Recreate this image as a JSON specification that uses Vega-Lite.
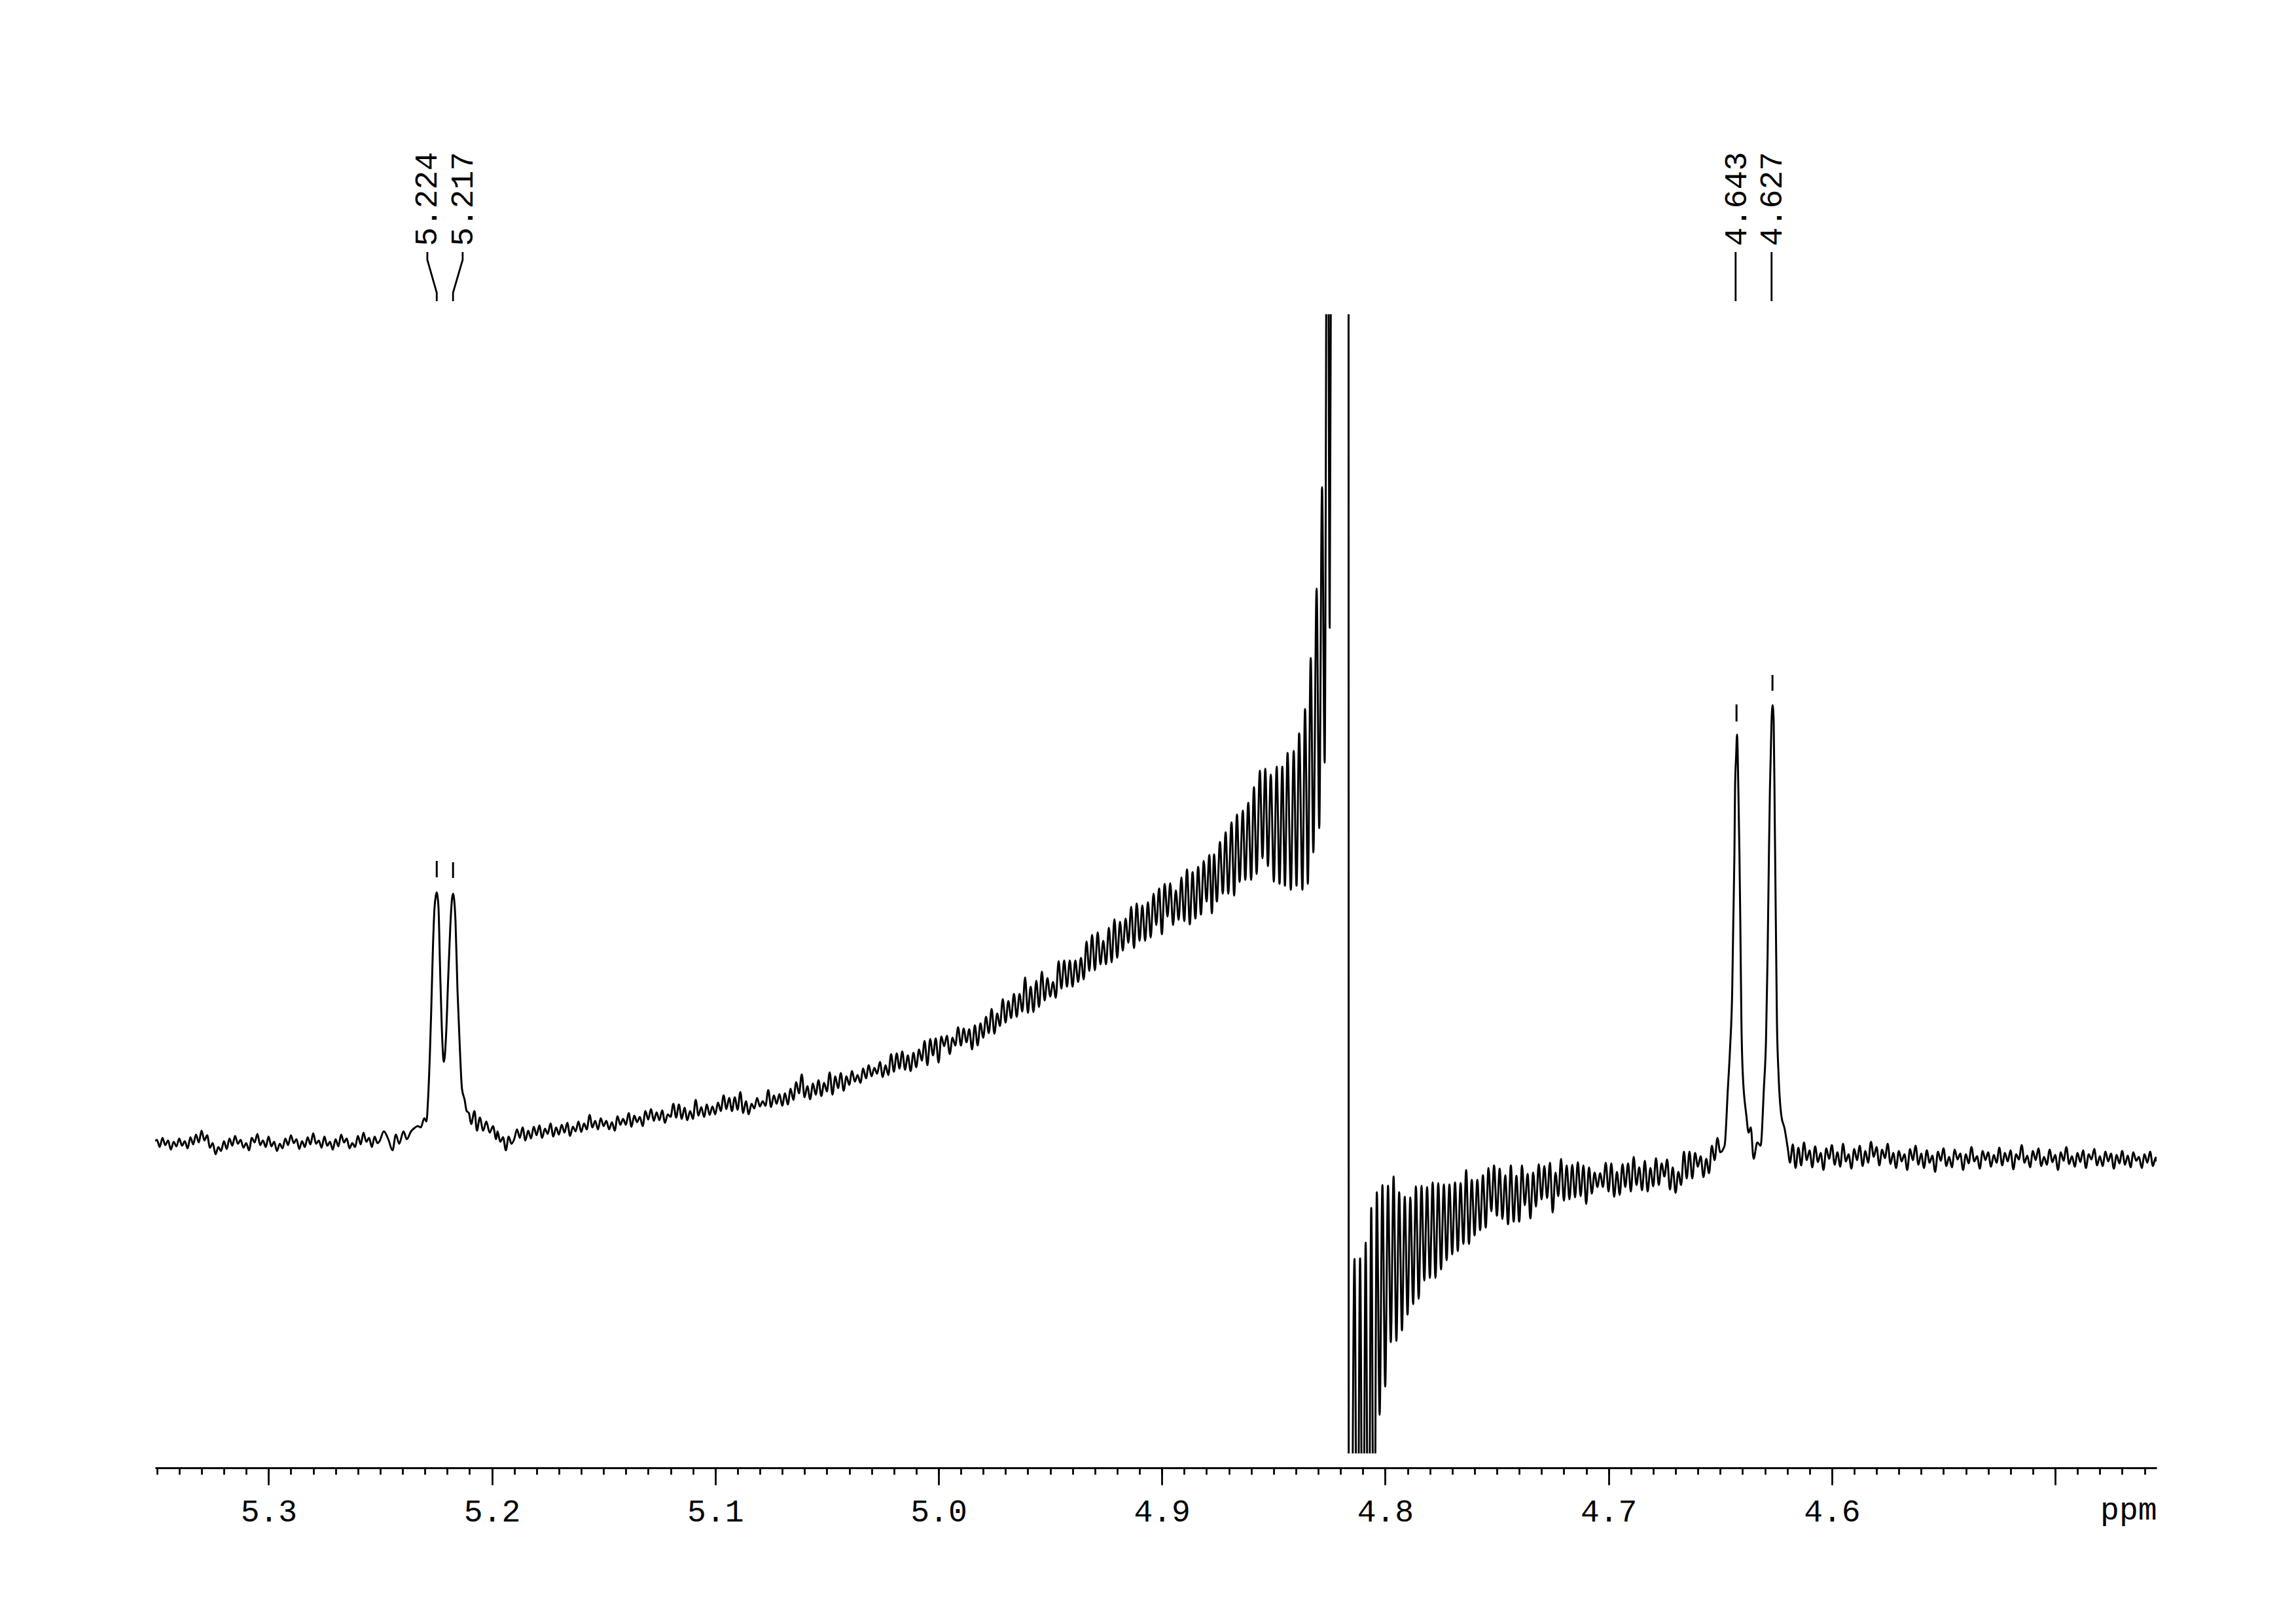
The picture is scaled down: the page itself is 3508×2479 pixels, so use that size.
{
"$schema": "https://vega.github.io/schema/vega-lite/v6.json",
"width": 3058,
"height": 1740,
"autosize": "none",
"padding": {"left": 237, "top": 480, "right": 213, "bottom": 259},
"background": "white",
"config": {"view": {"stroke": null}},
"datasets": {
"spectrum": [
{"ppm":5.3508,"int":499},
{"ppm":5.35,"int":501},{"ppm":5.34875,"int":490},{"ppm":5.3475,"int":504},{"ppm":5.34625,"int":493},{"ppm":5.345,"int":500},{"ppm":5.34375,"int":486},{"ppm":5.3425,"int":498},{"ppm":5.34125,"int":491},
{"ppm":5.34,"int":503},{"ppm":5.33875,"int":492},{"ppm":5.3375,"int":499},{"ppm":5.33625,"int":488},{"ppm":5.335,"int":505},{"ppm":5.33375,"int":494},{"ppm":5.3325,"int":509},{"ppm":5.33125,"int":497},
{"ppm":5.33,"int":515},{"ppm":5.32875,"int":500},{"ppm":5.3275,"int":508},{"ppm":5.32625,"int":489},{"ppm":5.325,"int":496},{"ppm":5.32375,"int":479},{"ppm":5.3225,"int":490},{"ppm":5.32125,"int":484},
{"ppm":5.32,"int":499},{"ppm":5.31875,"int":487},{"ppm":5.3175,"int":503},{"ppm":5.31625,"int":492},{"ppm":5.315,"int":507},{"ppm":5.31375,"int":495},{"ppm":5.3125,"int":501},{"ppm":5.31125,"int":489},
{"ppm":5.31,"int":496},{"ppm":5.30875,"int":485},{"ppm":5.3075,"int":504},{"ppm":5.30625,"int":497},{"ppm":5.305,"int":510},{"ppm":5.30375,"int":493},{"ppm":5.3025,"int":500},{"ppm":5.30125,"int":490},
{"ppm":5.3,"int":506},{"ppm":5.29875,"int":491},{"ppm":5.2975,"int":498},{"ppm":5.29625,"int":484},{"ppm":5.295,"int":495},{"ppm":5.29375,"int":488},{"ppm":5.2925,"int":503},{"ppm":5.29125,"int":493},
{"ppm":5.29,"int":508},{"ppm":5.28875,"int":496},{"ppm":5.2875,"int":502},{"ppm":5.28625,"int":487},{"ppm":5.285,"int":499},{"ppm":5.28375,"int":490},{"ppm":5.2825,"int":505},{"ppm":5.28125,"int":494},
{"ppm":5.28,"int":511},{"ppm":5.27875,"int":495},{"ppm":5.2775,"int":500},{"ppm":5.27625,"int":489},{"ppm":5.275,"int":506},{"ppm":5.27375,"int":492},{"ppm":5.2725,"int":498},{"ppm":5.27125,"int":486},
{"ppm":5.27,"int":502},{"ppm":5.26875,"int":491},{"ppm":5.2675,"int":509},{"ppm":5.26625,"int":497},{"ppm":5.265,"int":503},{"ppm":5.26375,"int":488},{"ppm":5.2625,"int":496},{"ppm":5.26125,"int":490},
{"ppm":5.26,"int":507},{"ppm":5.25875,"int":494},{"ppm":5.2575,"int":512},{"ppm":5.25625,"int":498},{"ppm":5.255,"int":504},{"ppm":5.25375,"int":490},{"ppm":5.2525,"int":506},{"ppm":5.25125,"int":496},
{"ppm":5.2503,"int":499},{"ppm":5.2484,"int":514},{"ppm":5.2464,"int":502},{"ppm":5.2445,"int":485},{"ppm":5.243,"int":509},{"ppm":5.2415,"int":495},{"ppm":5.2396,"int":514},{"ppm":5.2381,"int":502},
{"ppm":5.2362,"int":514},{"ppm":5.2347,"int":519},{"ppm":5.2332,"int":522},{"ppm":5.2318,"int":520},{"ppm":5.2303,"int":534},{"ppm":5.2293,"int":529},{"ppm":5.2286,"int":562},{"ppm":5.2278,"int":629},
{"ppm":5.2272,"int":695},{"ppm":5.2264,"int":795},{"ppm":5.2257,"int":855},{"ppm":5.2251,"int":874},{"ppm":5.2247,"int":879},{"ppm":5.2243,"int":872},{"ppm":5.2239,"int":855},{"ppm":5.2232,"int":762},
{"ppm":5.2225,"int":679},{"ppm":5.2215,"int":620},{"ppm":5.2205,"int":662},{"ppm":5.2196,"int":745},{"ppm":5.2186,"int":829},{"ppm":5.2178,"int":871},{"ppm":5.2173,"int":877},{"ppm":5.2169,"int":868},
{"ppm":5.2163,"int":835},{"ppm":5.2154,"int":729},{"ppm":5.2144,"int":645},{"ppm":5.2134,"int":579},{"ppm":5.2122,"int":562},{"ppm":5.2113,"int":545},{"ppm":5.2103,"int":542},{"ppm":5.2093,"int":525},
{"ppm":5.2078,"int":545},{"ppm":5.2067,"int":515},{"ppm":5.2054,"int":535},{"ppm":5.2039,"int":515},{"ppm":5.2025,"int":529},{"ppm":5.201,"int":512},{"ppm":5.1995,"int":522},{"ppm":5.1981,"int":502},
{"ppm":5.1975,"int":514},{"ppm":5.19625,"int":498},{"ppm":5.195,"int":505},{"ppm":5.19375,"int":485},{"ppm":5.1925,"int":506},{"ppm":5.19125,"int":495},
{"ppm":5.19,"int":502},{"ppm":5.18875,"int":517},{"ppm":5.1875,"int":504},{"ppm":5.18625,"int":520},{"ppm":5.185,"int":500},{"ppm":5.18375,"int":515},{"ppm":5.1825,"int":503},{"ppm":5.18125,"int":521},
{"ppm":5.18,"int":508},{"ppm":5.17875,"int":523},{"ppm":5.1775,"int":504},{"ppm":5.17625,"int":518},{"ppm":5.175,"int":510},{"ppm":5.17375,"int":526},{"ppm":5.1725,"int":506},{"ppm":5.17125,"int":520},
{"ppm":5.17,"int":509},{"ppm":5.16875,"int":524},{"ppm":5.1675,"int":512},{"ppm":5.16625,"int":527},{"ppm":5.165,"int":507},{"ppm":5.16375,"int":521},{"ppm":5.1625,"int":514},{"ppm":5.16125,"int":529},
{"ppm":5.16,"int":513},{"ppm":5.15875,"int":526},{"ppm":5.1575,"int":517},{"ppm":5.15625,"int":539},{"ppm":5.155,"int":520},{"ppm":5.15375,"int":530},{"ppm":5.1525,"int":517},{"ppm":5.15125,"int":534},
{"ppm":5.15,"int":522},{"ppm":5.14875,"int":530},{"ppm":5.1475,"int":517},{"ppm":5.14625,"int":528},{"ppm":5.145,"int":515},{"ppm":5.14375,"int":537},{"ppm":5.1425,"int":524},{"ppm":5.14125,"int":533},
{"ppm":5.14,"int":524},{"ppm":5.13875,"int":542},{"ppm":5.1375,"int":521},{"ppm":5.13625,"int":538},{"ppm":5.135,"int":528},{"ppm":5.13375,"int":536},{"ppm":5.1325,"int":522},{"ppm":5.13125,"int":545},
{"ppm":5.13,"int":532},{"ppm":5.12875,"int":548},{"ppm":5.1275,"int":530},{"ppm":5.12625,"int":543},{"ppm":5.125,"int":531},{"ppm":5.12375,"int":546},{"ppm":5.1225,"int":527},{"ppm":5.12125,"int":540},
{"ppm":5.12,"int":536},{"ppm":5.11875,"int":556},{"ppm":5.1175,"int":535},{"ppm":5.11625,"int":555},{"ppm":5.115,"int":533},{"ppm":5.11375,"int":550},{"ppm":5.1125,"int":531},{"ppm":5.11125,"int":545},
{"ppm":5.11,"int":533},{"ppm":5.10875,"int":562},{"ppm":5.1075,"int":538},{"ppm":5.10625,"int":551},{"ppm":5.105,"int":536},{"ppm":5.10375,"int":555},{"ppm":5.1025,"int":539},{"ppm":5.10125,"int":552},
{"ppm":5.1,"int":540},{"ppm":5.09875,"int":558},{"ppm":5.0975,"int":545},{"ppm":5.09625,"int":569},{"ppm":5.095,"int":548},{"ppm":5.09375,"int":565},{"ppm":5.0925,"int":545},{"ppm":5.09125,"int":566},
{"ppm":5.09,"int":547},{"ppm":5.08875,"int":574},{"ppm":5.0875,"int":542},{"ppm":5.08625,"int":560},{"ppm":5.085,"int":540},{"ppm":5.08375,"int":556},{"ppm":5.0825,"int":549},{"ppm":5.08125,"int":565},
{"ppm":5.08,"int":552},{"ppm":5.07875,"int":560},{"ppm":5.0775,"int":553},{"ppm":5.07625,"int":577},{"ppm":5.075,"int":551},{"ppm":5.07375,"int":569},{"ppm":5.0725,"int":556},{"ppm":5.07125,"int":571},
{"ppm":5.07,"int":553},{"ppm":5.06875,"int":572},{"ppm":5.0675,"int":555},{"ppm":5.06625,"int":579},{"ppm":5.065,"int":562},{"ppm":5.06375,"int":589},{"ppm":5.0625,"int":572},{"ppm":5.06125,"int":601},
{"ppm":5.06,"int":566},{"ppm":5.05875,"int":583},{"ppm":5.0575,"int":563},{"ppm":5.05625,"int":587},{"ppm":5.055,"int":570},{"ppm":5.05375,"int":592},{"ppm":5.0525,"int":568},{"ppm":5.05125,"int":588},
{"ppm":5.05,"int":575},{"ppm":5.04875,"int":604},{"ppm":5.0475,"int":570},{"ppm":5.04625,"int":598},{"ppm":5.045,"int":580},{"ppm":5.04375,"int":603},{"ppm":5.0425,"int":576},{"ppm":5.04125,"int":598},
{"ppm":5.04,"int":585},{"ppm":5.03875,"int":606},{"ppm":5.0375,"int":590},{"ppm":5.03625,"int":600},{"ppm":5.035,"int":588},{"ppm":5.03375,"int":610},{"ppm":5.0325,"int":595},{"ppm":5.03125,"int":615},
{"ppm":5.03,"int":598},{"ppm":5.02875,"int":611},{"ppm":5.0275,"int":602},{"ppm":5.02625,"int":620},{"ppm":5.025,"int":597},{"ppm":5.02375,"int":615},{"ppm":5.0225,"int":600},{"ppm":5.02125,"int":632},
{"ppm":5.02,"int":605},{"ppm":5.01875,"int":633},{"ppm":5.0175,"int":610},{"ppm":5.01625,"int":636},{"ppm":5.015,"int":608},{"ppm":5.01375,"int":630},{"ppm":5.0125,"int":606},{"ppm":5.01125,"int":634},
{"ppm":5.01,"int":612},{"ppm":5.00875,"int":639},{"ppm":5.0075,"int":622},{"ppm":5.00625,"int":652},{"ppm":5.005,"int":615},{"ppm":5.00375,"int":655},{"ppm":5.0025,"int":630},{"ppm":5.00125,"int":656},
{"ppm":5.0,"int":619},{"ppm":4.99875,"int":659},{"ppm":4.9975,"int":644},{"ppm":4.99625,"int":660},{"ppm":4.995,"int":632},{"ppm":4.99375,"int":657},{"ppm":4.9925,"int":645},{"ppm":4.99125,"int":673},
{"ppm":4.99,"int":645},{"ppm":4.98875,"int":671},{"ppm":4.9875,"int":650},{"ppm":4.98625,"int":670},{"ppm":4.985,"int":639},{"ppm":4.98375,"int":676},{"ppm":4.9825,"int":645},{"ppm":4.98125,"int":679},
{"ppm":4.98,"int":657},{"ppm":4.97875,"int":689},{"ppm":4.9775,"int":664},{"ppm":4.97625,"int":701},{"ppm":4.975,"int":663},{"ppm":4.97375,"int":694},{"ppm":4.9725,"int":675},{"ppm":4.97125,"int":716},
{"ppm":4.97,"int":680},{"ppm":4.96875,"int":713},{"ppm":4.9675,"int":687},{"ppm":4.96625,"int":724},{"ppm":4.965,"int":689},{"ppm":4.96375,"int":724},{"ppm":4.9625,"int":697},{"ppm":4.96125,"int":749},
{"ppm":4.96,"int":695},{"ppm":4.95875,"int":735},{"ppm":4.9575,"int":696},{"ppm":4.95625,"int":744},{"ppm":4.955,"int":704},{"ppm":4.95375,"int":758},{"ppm":4.9525,"int":714},{"ppm":4.95125,"int":748},
{"ppm":4.95,"int":720},{"ppm":4.94875,"int":742},{"ppm":4.9475,"int":718},{"ppm":4.94625,"int":774},{"ppm":4.945,"int":732},{"ppm":4.94375,"int":775},{"ppm":4.9425,"int":735},{"ppm":4.94125,"int":775},
{"ppm":4.94,"int":735},{"ppm":4.93875,"int":775},{"ppm":4.9375,"int":742},{"ppm":4.93625,"int":779},{"ppm":4.935,"int":746},{"ppm":4.93375,"int":804},{"ppm":4.9325,"int":759},{"ppm":4.93125,"int":814},
{"ppm":4.93,"int":760},{"ppm":4.92875,"int":818},{"ppm":4.9275,"int":769},{"ppm":4.92625,"int":805},{"ppm":4.925,"int":769},{"ppm":4.92375,"int":825},{"ppm":4.9225,"int":772},{"ppm":4.92125,"int":838},
{"ppm":4.92,"int":779},{"ppm":4.91875,"int":834},{"ppm":4.9175,"int":790},{"ppm":4.91625,"int":839},{"ppm":4.915,"int":802},{"ppm":4.91375,"int":857},{"ppm":4.9125,"int":794},{"ppm":4.91125,"int":862},
{"ppm":4.91,"int":805},{"ppm":4.90875,"int":859},{"ppm":4.9075,"int":805},{"ppm":4.90625,"int":864},{"ppm":4.905,"int":810},{"ppm":4.90375,"int":877},{"ppm":4.9025,"int":829},{"ppm":4.90125,"int":885},
{"ppm":4.9,"int":815},{"ppm":4.89875,"int":892},{"ppm":4.8975,"int":842},{"ppm":4.89625,"int":893},{"ppm":4.895,"int":829},{"ppm":4.89375,"int":882},{"ppm":4.8925,"int":837},{"ppm":4.89125,"int":902},
{"ppm":4.89,"int":835},{"ppm":4.88875,"int":914},{"ppm":4.8875,"int":830},{"ppm":4.88625,"int":910},{"ppm":4.885,"int":839},{"ppm":4.88375,"int":918},{"ppm":4.8825,"int":845},{"ppm":4.88125,"int":927},
{"ppm":4.88,"int":865},{"ppm":4.87875,"int":936},
{"ppm":4.87761,"int":847},{"ppm":4.87664,"int":937},{"ppm":4.87538,"int":865},{"ppm":4.874,"int":956},{"ppm":4.87274,"int":877},{"ppm":4.87145,"int":971},{"ppm":4.87028,"int":877},{"ppm":4.86882,"int":986},
{"ppm":4.86764,"int":874},{"ppm":4.86638,"int":998},{"ppm":4.86521,"int":895},{"ppm":4.86375,"int":1004},{"ppm":4.86266,"int":898},{"ppm":4.86131,"int":1016},{"ppm":4.86003,"int":898},{"ppm":4.85877,"int":1040},
{"ppm":4.85759,"int":907},{"ppm":4.85613,"int":1065},{"ppm":4.85496,"int":931},{"ppm":4.85369,"int":1068},{"ppm":4.85252,"int":919},{"ppm":4.85123,"int":1059},{"ppm":4.84988,"int":895},{"ppm":4.84859,"int":1071},
{"ppm":4.84733,"int":892},{"ppm":4.84607,"int":1071},{"ppm":4.8449,"int":889},{"ppm":4.84373,"int":1092},{"ppm":4.84226,"int":883},{"ppm":4.84097,"int":1095},{"ppm":4.83971,"int":889},{"ppm":4.83854,"int":1122},
{"ppm":4.83707,"int":883},{"ppm":4.8359,"int":1159},{"ppm":4.83464,"int":892},{"ppm":4.83335,"int":1237},{"ppm":4.83218,"int":940},{"ppm":4.83071,"int":1343},{"ppm":4.82954,"int":977},{"ppm":4.82828,"int":1498},
{"ppm":4.82711,"int":1077},{"ppm":4.82585,"int":2300},{"ppm":4.82485,"int":1283},{"ppm":4.82389,"int":2300},{"ppm":4.82,"int":3000},{"ppm":4.81645,"int":3000},{"ppm":4.8163,"int":-1500},
{"ppm":4.815,"int":-300},{"ppm":4.81375,"int":319},{"ppm":4.8125,"int":-300},{"ppm":4.81125,"int":320},
{"ppm":4.81,"int":-300},{"ppm":4.80875,"int":344},{"ppm":4.8075,"int":-300},{"ppm":4.80625,"int":397},{"ppm":4.805,"int":-300},{"ppm":4.80375,"int":421},{"ppm":4.8025,"int":81},{"ppm":4.80125,"int":432},
{"ppm":4.8,"int":124},{"ppm":4.79875,"int":431},{"ppm":4.7975,"int":192},{"ppm":4.79625,"int":445},{"ppm":4.795,"int":194},{"ppm":4.79375,"int":421},{"ppm":4.7925,"int":210},{"ppm":4.79125,"int":414},
{"ppm":4.79,"int":234},{"ppm":4.78875,"int":413},{"ppm":4.7875,"int":250},{"ppm":4.78625,"int":430},{"ppm":4.785,"int":258},{"ppm":4.78375,"int":431},{"ppm":4.7825,"int":286},{"ppm":4.78125,"int":429},
{"ppm":4.78,"int":290},{"ppm":4.77875,"int":436},{"ppm":4.7775,"int":290},{"ppm":4.77625,"int":435},{"ppm":4.775,"int":303},{"ppm":4.77375,"int":433},{"ppm":4.7725,"int":317},{"ppm":4.77125,"int":433},
{"ppm":4.77,"int":326},{"ppm":4.76875,"int":436},{"ppm":4.7675,"int":331},{"ppm":4.76625,"int":435},{"ppm":4.765,"int":342},{"ppm":4.76375,"int":455},{"ppm":4.7625,"int":342},{"ppm":4.76125,"int":440},
{"ppm":4.76,"int":355},{"ppm":4.75875,"int":440},{"ppm":4.7575,"int":363},{"ppm":4.75625,"int":447},{"ppm":4.755,"int":367},{"ppm":4.75375,"int":458},{"ppm":4.7525,"int":392},{"ppm":4.75125,"int":462},
{"ppm":4.75,"int":385},{"ppm":4.74875,"int":457},{"ppm":4.7475,"int":380},{"ppm":4.74625,"int":447},{"ppm":4.745,"int":372},{"ppm":4.74375,"int":462},{"ppm":4.7425,"int":376},{"ppm":4.74125,"int":446},
{"ppm":4.74,"int":376},{"ppm":4.73875,"int":462},{"ppm":4.7375,"int":401},{"ppm":4.73625,"int":449},{"ppm":4.735,"int":381},{"ppm":4.73375,"int":451},{"ppm":4.7325,"int":399},{"ppm":4.73125,"int":464},
{"ppm":4.73,"int":410},{"ppm":4.72875,"int":461},{"ppm":4.7275,"int":412},{"ppm":4.72625,"int":466},{"ppm":4.725,"int":390},{"ppm":4.72375,"int":451},{"ppm":4.7225,"int":415},{"ppm":4.72125,"int":472},
{"ppm":4.72,"int":408},{"ppm":4.71875,"int":462},{"ppm":4.7175,"int":410},{"ppm":4.71625,"int":463},{"ppm":4.715,"int":413},{"ppm":4.71375,"int":467},{"ppm":4.7125,"int":415},{"ppm":4.71125,"int":462},
{"ppm":4.71,"int":403},{"ppm":4.70875,"int":459},{"ppm":4.7075,"int":419},{"ppm":4.70625,"int":451},{"ppm":4.705,"int":429},{"ppm":4.70375,"int":450},{"ppm":4.7025,"int":429},{"ppm":4.70125,"int":466},
{"ppm":4.7,"int":422},{"ppm":4.69875,"int":465},{"ppm":4.6975,"int":414},{"ppm":4.69625,"int":452},{"ppm":4.695,"int":417},{"ppm":4.69375,"int":464},{"ppm":4.6925,"int":429},{"ppm":4.69125,"int":465},
{"ppm":4.69,"int":422},{"ppm":4.68875,"int":475},{"ppm":4.6875,"int":432},{"ppm":4.68625,"int":459},{"ppm":4.685,"int":424},{"ppm":4.68375,"int":469},{"ppm":4.6825,"int":422},{"ppm":4.68125,"int":458},
{"ppm":4.68,"int":430},{"ppm":4.67875,"int":473},{"ppm":4.6775,"int":432},{"ppm":4.67625,"int":465},{"ppm":4.675,"int":445},{"ppm":4.67375,"int":471},{"ppm":4.6725,"int":425},{"ppm":4.67125,"int":459},
{"ppm":4.67,"int":420},{"ppm":4.66875,"int":452},{"ppm":4.6675,"int":432},{"ppm":4.66625,"int":483},{"ppm":4.665,"int":442},{"ppm":4.66375,"int":483},{"ppm":4.6625,"int":442},{"ppm":4.66125,"int":481},
{"ppm":4.66,"int":460},{"ppm":4.65875,"int":476},{"ppm":4.6575,"int":444},{"ppm":4.65625,"int":472},{"ppm":4.655,"int":450},{"ppm":4.65375,"int":492},{"ppm":4.6525,"int":470},{"ppm":4.65125,"int":504},
{"ppm":4.65,"int":482},
{"ppm":4.64804,"int":492},{"ppm":4.64657,"int":579},{"ppm":4.6456,"int":640},{"ppm":4.64461,"int":732},{"ppm":4.64414,"int":834},{"ppm":4.64364,"int":936},{"ppm":4.64335,"int":1038},{"ppm":4.64285,"int":1089},
{"ppm":4.64247,"int":1120},{"ppm":4.64188,"int":1038},{"ppm":4.64138,"int":936},{"ppm":4.641,"int":834},{"ppm":4.6405,"int":681},{"ppm":4.63992,"int":604},{"ppm":4.63828,"int":538},{"ppm":4.63728,"int":512},
{"ppm":4.63631,"int":520},{"ppm":4.63505,"int":472},{"ppm":4.63338,"int":497},{"ppm":4.63192,"int":492},{"ppm":4.63045,"int":579},{"ppm":4.62948,"int":655},{"ppm":4.62878,"int":783},{"ppm":4.62819,"int":936},
{"ppm":4.62773,"int":1038},{"ppm":4.62702,"int":1140},{"ppm":4.62655,"int":1165},{"ppm":4.62605,"int":1140},{"ppm":4.62556,"int":987},{"ppm":4.62509,"int":834},{"ppm":4.62459,"int":681},{"ppm":4.62391,"int":604},
{"ppm":4.62263,"int":538},{"ppm":4.62116,"int":518},{"ppm":4.6197,"int":487},
{"ppm":4.61875,"int":466},{"ppm":4.6175,"int":494},{"ppm":4.61625,"int":458},{"ppm":4.615,"int":489},{"ppm":4.61375,"int":462},{"ppm":4.6125,"int":497},{"ppm":4.61125,"int":470},
{"ppm":4.61,"int":485},{"ppm":4.60875,"int":459},{"ppm":4.6075,"int":491},{"ppm":4.60625,"int":467},{"ppm":4.605,"int":481},{"ppm":4.60375,"int":455},{"ppm":4.6025,"int":488},{"ppm":4.60125,"int":472},
{"ppm":4.6,"int":493},{"ppm":4.59875,"int":463},{"ppm":4.5975,"int":482},{"ppm":4.59625,"int":460},{"ppm":4.595,"int":495},{"ppm":4.59375,"int":468},{"ppm":4.5925,"int":479},{"ppm":4.59125,"int":457},
{"ppm":4.59,"int":487},{"ppm":4.58875,"int":470},{"ppm":4.5875,"int":492},{"ppm":4.58625,"int":461},{"ppm":4.585,"int":484},{"ppm":4.58375,"int":466},{"ppm":4.5825,"int":498},{"ppm":4.58125,"int":475},
{"ppm":4.58,"int":490},{"ppm":4.57875,"int":462},{"ppm":4.5775,"int":486},{"ppm":4.57625,"int":473},{"ppm":4.575,"int":495},{"ppm":4.57375,"int":464},{"ppm":4.5725,"int":481},{"ppm":4.57125,"int":458},
{"ppm":4.57,"int":484},{"ppm":4.56875,"int":468},{"ppm":4.5675,"int":479},{"ppm":4.56625,"int":455},{"ppm":4.565,"int":487},{"ppm":4.56375,"int":470},{"ppm":4.5625,"int":492},{"ppm":4.56125,"int":463},
{"ppm":4.56,"int":480},{"ppm":4.55875,"int":458},{"ppm":4.5575,"int":485},{"ppm":4.55625,"int":466},{"ppm":4.555,"int":477},{"ppm":4.55375,"int":452},{"ppm":4.5525,"int":483},{"ppm":4.55125,"int":469},
{"ppm":4.55,"int":488},{"ppm":4.54875,"int":461},{"ppm":4.5475,"int":475},{"ppm":4.54625,"int":459},{"ppm":4.545,"int":486},{"ppm":4.54375,"int":471},{"ppm":4.5425,"int":480},{"ppm":4.54125,"int":455},
{"ppm":4.54,"int":479},{"ppm":4.53875,"int":465},{"ppm":4.5375,"int":490},{"ppm":4.53625,"int":468},{"ppm":4.535,"int":476},{"ppm":4.53375,"int":457},{"ppm":4.5325,"int":484},{"ppm":4.53125,"int":470},
{"ppm":4.53,"int":482},{"ppm":4.52875,"int":460},{"ppm":4.5275,"int":478},{"ppm":4.52625,"int":466},{"ppm":4.525,"int":489},{"ppm":4.52375,"int":462},{"ppm":4.5225,"int":481},{"ppm":4.52125,"int":468},
{"ppm":4.52,"int":485},{"ppm":4.51875,"int":456},{"ppm":4.5175,"int":479},{"ppm":4.51625,"int":471},{"ppm":4.515,"int":493},{"ppm":4.51375,"int":466},{"ppm":4.5125,"int":477},{"ppm":4.51125,"int":459},
{"ppm":4.51,"int":484},{"ppm":4.50875,"int":470},{"ppm":4.5075,"int":488},{"ppm":4.50625,"int":461},{"ppm":4.505,"int":475},{"ppm":4.50375,"int":463},{"ppm":4.5025,"int":486},{"ppm":4.50125,"int":467},
{"ppm":4.5,"int":478},{"ppm":4.49875,"int":455},{"ppm":4.4975,"int":482},{"ppm":4.49625,"int":469},{"ppm":4.495,"int":490},{"ppm":4.49375,"int":464},{"ppm":4.4925,"int":476},{"ppm":4.49125,"int":460},
{"ppm":4.49,"int":481},{"ppm":4.48875,"int":467},{"ppm":4.4875,"int":485},{"ppm":4.48625,"int":458},{"ppm":4.485,"int":479},{"ppm":4.48375,"int":471},{"ppm":4.4825,"int":487},{"ppm":4.48125,"int":462},
{"ppm":4.48,"int":476},{"ppm":4.47875,"int":461},{"ppm":4.4775,"int":483},{"ppm":4.47625,"int":468},{"ppm":4.475,"int":480},{"ppm":4.47375,"int":457},{"ppm":4.4725,"int":478},{"ppm":4.47125,"int":465},
{"ppm":4.47,"int":484},{"ppm":4.46875,"int":463},{"ppm":4.4675,"int":477},{"ppm":4.46625,"int":459},{"ppm":4.465,"int":482},{"ppm":4.46375,"int":469},{"ppm":4.4625,"int":475},{"ppm":4.46125,"int":458},
{"ppm":4.46,"int":479},{"ppm":4.45875,"int":466},{"ppm":4.4575,"int":483},{"ppm":4.45625,"int":461},{"ppm":4.455,"int":474},{"ppm":4.4546,"int":468}
],
"peakticks": [
{"peak":"5.224","ppm":5.2247,"low":902,"high":927},
{"peak":"5.217","ppm":5.2174,"low":901,"high":925},
{"peak":"4.643","ppm":4.6427,"low":1140,"high":1166},
{"peak":"4.627","ppm":4.6266,"low":1187,"high":1211}
],
"connectors": [
{"peak":"5.224","step":1,"ppm":5.2289,"int":1857},
{"peak":"5.224","step":2,"ppm":5.2289,"int":1845},
{"peak":"5.224","step":3,"ppm":5.2247,"int":1795},
{"peak":"5.224","step":4,"ppm":5.2247,"int":1782},
{"peak":"5.217","step":1,"ppm":5.2131,"int":1857},
{"peak":"5.217","step":2,"ppm":5.2131,"int":1845},
{"peak":"5.217","step":3,"ppm":5.2174,"int":1795},
{"peak":"5.217","step":4,"ppm":5.2174,"int":1782},
{"peak":"4.643","step":1,"ppm":4.6431,"int":1857},
{"peak":"4.643","step":2,"ppm":4.6431,"int":1782},
{"peak":"4.627","step":1,"ppm":4.627,"int":1857},
{"peak":"4.627","step":2,"ppm":4.627,"int":1782}
],
"labels": [
{"peak":"5.224","ppm":5.2288},
{"peak":"5.217","ppm":5.2128},
{"peak":"4.643","ppm":4.6426},
{"peak":"4.627","ppm":4.6265}
]
},
"resolve": {"axis": {"x": "independent"}},
"layer": [
{
"data": {"name": "spectrum"},
"mark": {"type": "line", "color": "black", "strokeWidth": 3, "clip": true, "interpolate": "monotone", "strokeJoin": "round"},
"encoding": {
"x": {"field": "ppm", "type": "quantitative",
"scale": {"domain": [4.4546, 5.3508], "reverse": true, "nice": false, "zero": false},
"axis": {"orient": "bottom", "values": [4.5,4.6,4.7,4.8,4.9,5.0,5.1,5.2,5.3], "format": ".1f",
"labelExpr": "datum.value < 4.55 ? '' : datum.label",
"tickSize": 26, "tickWidth": 2.8, "tickColor": "black", "domainColor": "black", "domainWidth": 3.2,
"labelFont": "Liberation Mono", "labelFontSize": 48, "labelColor": "black", "labelPadding": 17,
"labelFlush": false, "labelOverlap": false, "grid": false, "offset": 22,
"title": "ppm", "titleFont": "Liberation Mono", "titleFontSize": 48, "titleFontWeight": "normal", "titleColor": "black",
"titleAnchor": "end", "titleAlign": "right", "titleBaseline": "alphabetic", "titleX": 3058, "titleY": 78}},
"y": {"field": "int", "type": "quantitative", "scale": {"domain": [22, 1762], "nice": false, "zero": false}, "axis": null},
"order": {"field": "ppm", "type": "quantitative", "sort": "descending"}
}
},
{
"data": {"name": "peakticks"},
"mark": {"type": "rule", "color": "black", "strokeWidth": 3},
"encoding": {
"x": {"field": "ppm", "type": "quantitative",
"scale": {"domain": [4.4546, 5.3508], "reverse": true, "nice": false, "zero": false},
"axis": {"orient": "bottom", "values": [4.46,4.47,4.48,4.49,4.5,4.51,4.52,4.53,4.54,4.55,4.56,4.57,4.58,4.59,4.6,4.61,4.62,4.63,4.64,4.65,4.66,4.67,4.68,4.69,4.7,4.71,4.72,4.73,4.74,4.75,4.76,4.77,4.78,4.79,4.8,4.81,4.82,4.83,4.84,4.85,4.86,4.87,4.88,4.89,4.9,4.91,4.92,4.93,4.94,4.95,4.96,4.97,4.98,4.99,5.0,5.01,5.02,5.03,5.04,5.05,5.06,5.07,5.08,5.09,5.1,5.11,5.12,5.13,5.14,5.15,5.16,5.17,5.18,5.19,5.2,5.21,5.22,5.23,5.24,5.25,5.26,5.27,5.28,5.29,5.3,5.31,5.32,5.33,5.34,5.35],
"tickSize": 10, "tickWidth": 2.8, "tickColor": "black", "labels": false, "domain": false, "grid": false, "offset": 22, "title": null}},
"y": {"field": "low", "type": "quantitative", "scale": {"domain": [22, 1762], "nice": false, "zero": false}, "axis": null},
"y2": {"field": "high"}
}
},
{
"data": {"name": "connectors"},
"mark": {"type": "line", "color": "black", "strokeWidth": 2.8},
"encoding": {
"x": {"field": "ppm", "type": "quantitative", "scale": {"domain": [4.4546, 5.3508], "reverse": true, "nice": false, "zero": false}, "axis": null},
"y": {"field": "int", "type": "quantitative", "scale": {"domain": [22, 1762], "nice": false, "zero": false}, "axis": null},
"detail": {"field": "peak"},
"order": {"field": "step", "type": "quantitative"}
}
},
{
"data": {"name": "labels"},
"mark": {"type": "text", "angle": 270, "align": "left", "baseline": "middle", "font": "Liberation Mono", "fontSize": 48, "color": "black"},
"encoding": {
"x": {"field": "ppm", "type": "quantitative", "scale": {"domain": [4.4546, 5.3508], "reverse": true, "nice": false, "zero": false}, "axis": null},
"y": {"datum": 1866, "type": "quantitative", "scale": {"domain": [22, 1762], "nice": false, "zero": false}, "axis": null},
"text": {"field": "peak"}
}
}
]
}
